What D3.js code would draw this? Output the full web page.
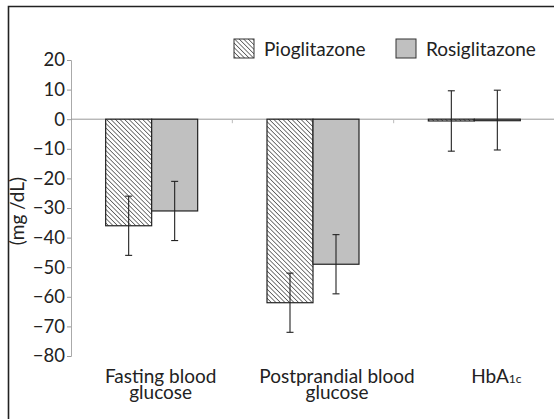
<!DOCTYPE html>
<html>
<head>
<meta charset="utf-8">
<script src="https://cdn.jsdelivr.net/npm/d3@7"></script>
<style>
  body { margin: 0; background: #fff; }
  text { font-family: Lato, "Open Sans", sans-serif; fill: #222; }
</style>
</head>
<body>
<svg id="chart" width="554" height="419"></svg>
<script>
// data
const categories = ["Fasting blood|glucose", "Postprandial blood|glucose", "HbA1c"];
const seriesNames = ["Pioglitazone", "Rosiglitazone"];
const pioValues = [-36, -62, -0.6];
const rosiValues = [-31, -49, -0.3];
const pioErrors = [10, 10, 10.2];
const rosiErrors = [10, 10, 10.1];
const yTicks = [20, 10, 0, -10, -20, -30, -40, -50, -60, -70, -80];

const width = 554, height = 419;
const margin = {left: 71, right: -1, top: 60, bottom: 63};

const svg = d3.select("#chart");

// hatch pattern for pioglitazone ("\\" direction)
const defs = svg.append("defs");
const pat = defs.append("pattern")
    .attr("id", "hatch")
    .attr("patternUnits", "userSpaceOnUse")
    .attr("width", 3.2)
    .attr("height", 3.2)
    .attr("patternTransform", "rotate(-45)");
pat.append("rect").attr("width", 3.2).attr("height", 3.2).attr("fill", "#fff");
pat.append("line")
    .attr("x1", 0).attr("y1", 0).attr("x2", 0).attr("y2", 3.2)
    .attr("stroke", "#333").attr("stroke-width", 1.3);

const fills = ["url(#hatch)", "#c0c0c0"];

// outer frame (only left/top edges are in view)
svg.append("path")
    .attr("d", "M8.5,419 L8.5,6.5 L554,6.5")
    .attr("fill", "none")
    .attr("stroke", "#222")
    .attr("stroke-width", 1.6);

const x = d3.scaleBand()
    .domain(categories)
    .range([margin.left, width - margin.right]);

const x1 = d3.scaleBand()
    .domain(seriesNames)
    .range([0, 92]);

const y = d3.scaleLinear()
    .domain([20, -80])
    .range([margin.top, height - margin.bottom]);

// y axis
const yAxis = svg.append("g")
    .attr("transform", `translate(${margin.left},0)`)
    .call(d3.axisLeft(y)
        .tickValues(yTicks)
        .tickSize(4)
        .tickFormat(d => d < 0 ? "\u2212" + Math.abs(d) : d));
yAxis.select(".domain").attr("stroke", "#aaa");
yAxis.selectAll(".tick line").attr("stroke", "#999");
yAxis.selectAll(".tick text")
    .attr("x", -6)
    .style("font-size", "18.5px")
    .attr("fill", "#222");

// zero line with small category ticks
svg.append("line")
    .attr("x1", margin.left).attr("x2", width)
    .attr("y1", y(0)).attr("y2", y(0))
    .attr("stroke", "#999");
svg.selectAll(".cattick")
    .data(categories.slice(1))
    .enter()
    .append("line")
    .attr("x1", d => x(d)).attr("x2", d => x(d))
    .attr("y1", y(0)).attr("y2", y(0) + 4)
    .attr("stroke", "#bbb");

// bars
const rows = categories.map((c, i) => [
    {cat: c, s: seriesNames[0], v: pioValues[i], e: pioErrors[i], fill: fills[0]},
    {cat: c, s: seriesNames[1], v: rosiValues[i], e: rosiErrors[i], fill: fills[1]}
]).flat();

const barX = d => x(d.cat) + x.bandwidth() / 2 - 46 + x1(d.s);

svg.append("g").selectAll("rect")
    .data(rows)
    .enter()
    .append("rect")
    .attr("x", barX)
    .attr("width", x1.bandwidth())
    .attr("y", d => y(Math.max(0, d.v)))
    .attr("height", d => Math.max(Math.abs(y(d.v) - y(0)), 1.5))
    .attr("fill", d => d.fill)
    .attr("stroke", "#222")
    .attr("stroke-width", 1.2);

// error bars
const err = svg.append("g").selectAll("g")
    .data(rows)
    .enter()
    .append("g")
    .attr("transform", d => `translate(${barX(d) + x1.bandwidth() / 2},0)`)
    .attr("stroke", "#222")
    .attr("stroke-width", 1.1);
err.append("line").attr("y1", d => y(d.v + d.e)).attr("y2", d => y(d.v - d.e));
err.append("line").attr("x1", -3.5).attr("x2", 3.5).attr("y1", d => y(d.v + d.e)).attr("y2", d => y(d.v + d.e));
err.append("line").attr("x1", -3.5).attr("x2", 3.5).attr("y1", d => y(d.v - d.e)).attr("y2", d => y(d.v - d.e));

// category labels (the original sits them a bit right of the band centres)
const labelNudge = [9, 24, 22];
const labelX = (d, i) => x(d) + x.bandwidth() / 2 + labelNudge[i];
const catLabels = svg.append("g").selectAll("text")
    .data(categories)
    .enter()
    .append("text")
    .attr("x", labelX)
    .attr("y", 383)
    .attr("text-anchor", "middle")
    .style("font-size", "19px");
catLabels.each(function(d, i) {
    const t = d3.select(this);
    if (d === "HbA1c") {
        t.append("tspan").text("HbA");
        t.append("tspan").style("font-size", "12px").text("1c");
    } else {
        d.split("|").forEach((line, j) => {
            t.append("tspan")
                .attr("x", labelX(d, i))
                .attr("dy", j === 0 ? 0 : 16)
                .text(line);
        });
    }
});

// y axis title
svg.append("text")
    .attr("transform", "translate(24,211) rotate(-90)")
    .attr("text-anchor", "middle")
    .style("font-size", "19px")
    .text("(mg /dL)");

// legend
const legend = svg.append("g").selectAll("g")
    .data(seriesNames)
    .enter()
    .append("g")
    .attr("transform", (d, i) => `translate(${i === 0 ? 234 : 396},39)`);
legend.append("rect")
    .attr("width", 20).attr("height", 19)
    .attr("fill", (d, i) => fills[i])
    .attr("stroke", "#333")
    .attr("stroke-width", 1);
legend.append("text")
    .attr("x", 30).attr("y", 17)
    .style("font-size", "19px")
    .text(d => d);
</script>
</body>
</html>
